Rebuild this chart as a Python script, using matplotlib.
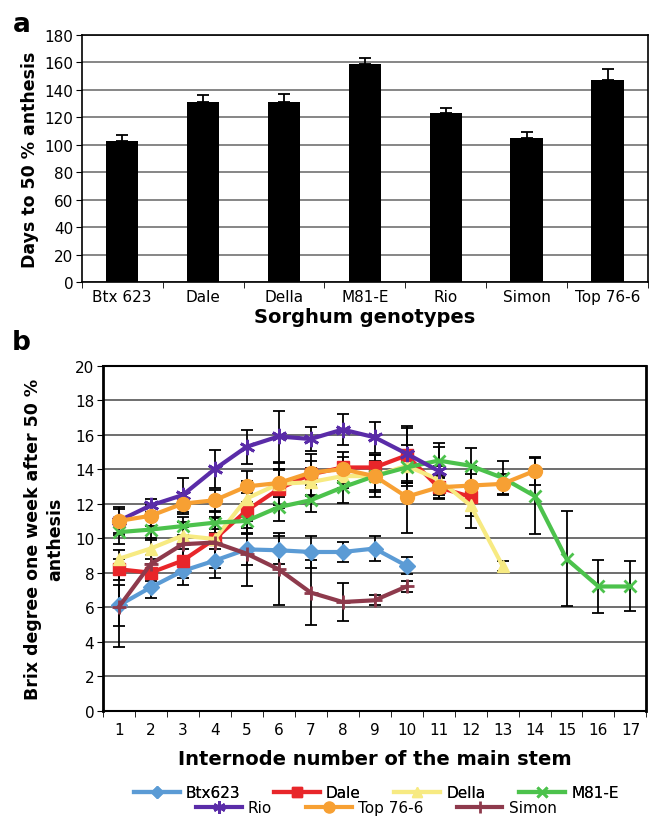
import numpy as np
import matplotlib
matplotlib.use("Agg")
import matplotlib.pyplot as plt
from matplotlib.ticker import FixedLocator

plt.rcParams['font.family'] = ['DejaVu Sans']

# --- panel a: days to 50 % anthesis ---
genotypes = ["Btx 623", "Dale", "Della", "M81-E", "Rio", "Simon", "Top 76-6"]
days = [103, 131, 131, 159, 123, 105, 147]
days_err = [4, 5, 6, 4, 4, 4, 8]

# --- panel b: brix per internode ---
series_names = ["Btx623", "Dale", "Della", "M81-E", "Rio", "Top 76-6", "Simon"]
btx = [6.1, 7.15, 8.1, 8.7, 9.35, 9.3, 9.2, 9.2, 9.4, 8.4]
btx_err = [1.2, 0.6, 0.8, 1.0, 0.9, 0.8, 0.9, 0.6, 0.7, 0.5]
dale = [8.2, 8.0, 8.7, 9.95, 11.6, 12.85, 13.7, 14.1, 14.1, 14.8, 12.95, 12.4]
dale_err = [0.6, 0.5, 1.0, 1.2, 1.0, 1.1, 1.2, 0.9, 0.7, 1.6, 0.7, 1.8]
della = [8.8, 9.4, 10.15, 9.95, 12.3, 13.15, 13.25, 13.6, 13.6, 14.2, 13.4, 11.9, 8.4]
della_err = [0.5, 0.6, 0.8, 0.6, 1.0, 1.2, 0.8, 0.7, 0.8, 1.2, 0.8, 0.6, 0.3]
m81e = [10.35, 10.5, 10.7, 10.9, 11.0, 11.8, 12.2, 12.95, 13.6, 14.1, 14.5, 14.2,
        13.5, 12.45, 8.8, 7.2, 7.2]
m81e_err = [0.7, 0.6, 0.5, 0.6, 0.7, 0.8, 0.7, 0.9, 0.9, 0.9, 1.0, 1.0, 1.0,
            2.2, 2.75, 1.55, 1.45]
rio = [11.0, 11.9, 12.5, 14.0, 15.3, 15.9, 15.75, 16.3, 15.85, 14.9, 13.9]
rio_err = [0.8, 0.4, 1.0, 1.1, 1.0, 1.5, 0.7, 0.9, 0.9, 1.6, 1.4]
top766 = [11.0, 11.3, 12.0, 12.2, 13.0, 13.2, 13.8, 14.0, 13.6, 12.4, 12.95,
          13.05, 13.15, 13.9]
top766_err = [0.7, 0.6, 0.6, 0.6, 0.9, 0.8, 0.7, 0.7, 1.2, 2.1, 0.6, 0.7, 0.6, 0.8]
simon = [6.0, 8.5, 9.65, 9.75, 9.1, 8.2, 6.85, 6.3, 6.4, 7.2]
simon_err = [2.3, 0.5, 1.0, 1.5, 1.9, 2.1, 1.9, 1.1, 0.3, 0.3]

series_vals = [btx, dale, della, m81e, rio, top766, simon]
series_errs = [btx_err, dale_err, della_err, m81e_err, rio_err, top766_err, simon_err]
colors = ["#5b9bd5", "#e8262a", "#f7ea82", "#4cc24c", "#5a2ca8", "#f7a033", "#8e3a4c"]
markers = ["D", "s", "^", "x", (6, 2, 0), "o", "+"]
msizes = [8, 9, 9, 9, 11, 10, 10]

fig = plt.figure(figsize=(6.6, 8.2), dpi=100)

# ---------------- panel a ----------------
ax1 = fig.add_axes([0.1238, 0.6545, 0.858, 0.302])
x = np.arange(len(genotypes))
ax1.bar(x, days, width=0.4, color="black", zorder=3)
ax1.errorbar(x, days, yerr=[np.zeros(len(days)), days_err], fmt="none",
             ecolor="black", elinewidth=1.3, capsize=4, capthick=1.3, zorder=4)
ax1.set_xlim(-0.5, len(genotypes) - 0.5)
ax1.set_ylim(0, 180)
ax1.set_yticks(np.arange(0, 181, 20))
ax1.set_xticks(x)
ax1.set_xticklabels(genotypes, fontsize=11)
ax1.xaxis.set_minor_locator(FixedLocator(np.arange(-0.5, len(genotypes), 1)))
ax1.tick_params(axis="x", which="major", length=0, pad=5)
ax1.tick_params(axis="x", which="minor", length=4, direction="out")
ax1.tick_params(axis="y", labelsize=11, length=4, pad=2)
ax1.grid(axis="y", color="#666666", linewidth=1.1, zorder=0)
for s in ax1.spines.values():
    s.set_linewidth(1.2)
ax1.set_ylabel("Days to 50 % anthesis", fontsize=12.5, fontweight="bold", labelpad=4)
ax1.set_xlabel("Sorghum genotypes", fontsize=14, fontweight="bold", labelpad=2)
fig.text(0.02, 0.985, "a", fontsize=19, fontweight="bold", va="top", ha="left")

# ---------------- panel b ----------------
ax2 = fig.add_axes([0.1556, 0.1321, 0.8239, 0.4207])
for name, vals, errs, c, m, ms in zip(series_names, series_vals, series_errs,
                                       colors, markers, msizes):
    xi = np.arange(1, len(vals) + 1)
    ax2.errorbar(xi, vals, yerr=errs, fmt="none", ecolor="black",
                 elinewidth=1.3, capsize=4, capthick=1.3, zorder=3)
    mew = 2 if m in ("x", "+", (6, 2, 0)) else 1
    ax2.plot(xi, vals, color=c, linewidth=3, marker=m, markersize=ms,
             markeredgecolor=c, markerfacecolor=c, markeredgewidth=mew,
             zorder=4, label=name)

ax2.set_xlim(0.5, 17.5)
ax2.set_ylim(0, 20)
ax2.set_yticks(np.arange(0, 21, 2))
ax2.set_xticks(np.arange(1, 18))
ax2.xaxis.set_minor_locator(FixedLocator(np.arange(0.5, 17.6, 1)))
ax2.tick_params(axis="x", which="major", length=0, labelsize=11, pad=8)
ax2.tick_params(axis="x", which="minor", length=4, direction="out")
ax2.tick_params(axis="y", labelsize=11, length=4, pad=2)
ax2.grid(axis="y", color="#555555", linewidth=1.2, zorder=0)
ax2.spines["left"].set_linewidth(2)
ax2.spines["right"].set_linewidth(2)
ax2.spines["top"].set_linewidth(1.5)
ax2.spines["bottom"].set_linewidth(1.5)
ax2.set_xlabel("Internode number of the main stem", fontsize=14,
               fontweight="bold", labelpad=9)
ax2.set_ylabel("Brix degree one week after 50 %\nanthesis", fontsize=12.5,
               fontweight="bold", labelpad=8, linespacing=1.3)
fig.text(0.018, 0.597, "b", fontsize=19, fontweight="bold", va="top", ha="left")

handles = ax2.get_legend_handles_labels()[0]
leg1 = fig.legend(handles[:4], series_names[:4], loc="center",
                  bbox_to_anchor=(0.57, 0.032), ncol=4, frameon=False,
                  fontsize=11, handlelength=3, columnspacing=2.2,
                  handletextpad=0.4, borderaxespad=0, markerscale=0.8)
leg2 = fig.legend(handles[4:], series_names[4:], loc="center",
                  bbox_to_anchor=(0.57, 0.014), ncol=3, frameon=False,
                  fontsize=11, handlelength=3, columnspacing=2.2,
                  handletextpad=0.4, borderaxespad=0, markerscale=0.8)
fig.add_artist(leg1)

fig.savefig("out.png", dpi=100)
